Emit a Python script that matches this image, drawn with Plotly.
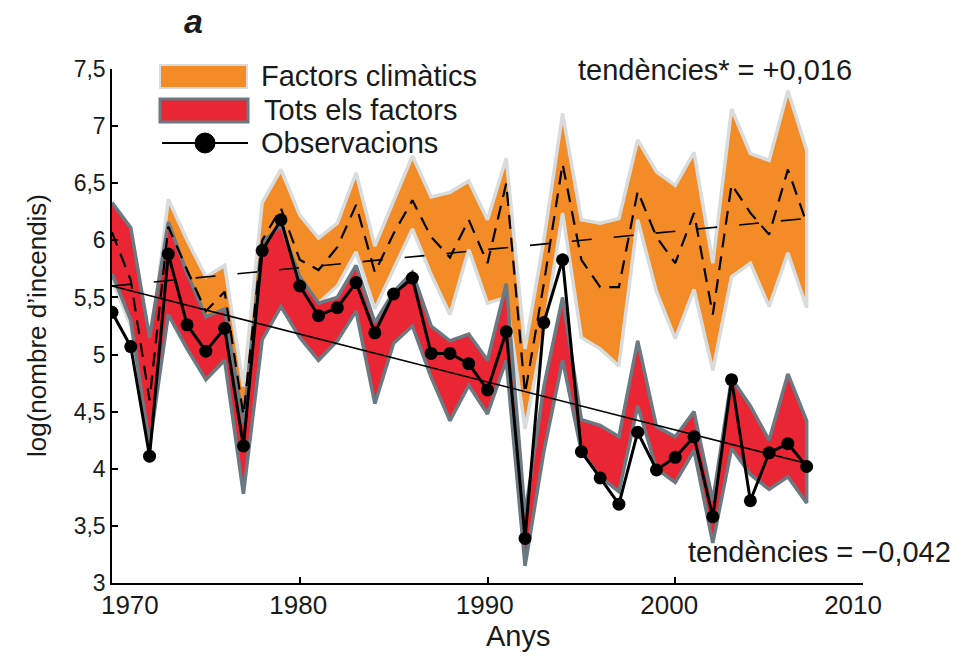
import plotly.graph_objects as go

# --- data -----------------------------------------------------------------
years = list(range(1970, 2008))

# observed log(number of fires)
observed = [5.37, 5.07, 4.11, 5.88, 5.26, 5.03, 5.23, 4.20, 5.91, 6.18,
            5.60, 5.34, 5.41, 5.63, 5.19, 5.53, 5.67, 5.01, 5.01, 4.92,
            4.69, 5.20, 3.39, 5.28, 5.83, 4.15, 3.92, 3.69, 4.32, 3.99,
            4.10, 4.28, 3.58, 4.78, 3.72, 4.14, 4.22, 4.02]

# model envelope, climatic factors only
clim_hi = [6.25, 6.00, 5.00, 6.36, 6.00, 5.68, 5.78, 4.72, 6.33, 6.62,
           6.22, 6.02, 6.15, 6.59, 5.95, 6.35, 6.74, 6.38, 6.42, 6.52,
           6.18, 6.72, 5.05, 6.00, 7.11, 6.18, 6.15, 6.19, 6.88, 6.60,
           6.48, 6.77, 5.80, 7.15, 6.76, 6.70, 7.31, 6.79]
clim_lo = [5.65, 5.25, 4.25, 5.75, 5.40, 5.05, 5.20, 4.30, 5.65, 5.90,
           5.50, 5.45, 5.60, 5.90, 5.40, 5.75, 6.10, 5.70, 5.35, 5.92,
           5.45, 5.50, 4.35, 5.20, 6.24, 5.15, 5.05, 4.90, 6.18, 5.55,
           5.14, 5.57, 4.86, 5.68, 5.80, 5.42, 5.89, 5.41]
clim_mean = [6.07, 5.65, 4.60, 6.12, 5.74, 5.38, 5.55, 4.47, 6.00, 6.28,
             5.83, 5.74, 5.94, 6.31, 5.72, 6.06, 6.35, 6.03, 5.85, 6.18,
             5.80, 6.50, 4.66, 5.62, 6.67, 5.83, 5.59, 5.59, 6.43, 6.03,
             5.80, 6.24, 5.35, 6.49, 6.24, 6.05, 6.62, 6.15]

# model envelope, all factors
all_hi = [6.33, 6.11, 5.15, 6.16, 5.71, 5.33, 5.40, 4.40, 5.98, 6.13,
          5.68, 5.45, 5.50, 5.78, 5.28, 5.55, 5.72, 5.25, 5.12, 5.18,
          4.95, 5.62, 3.60, 4.72, 5.50, 4.43, 4.38, 4.28, 5.12, 4.37,
          4.28, 4.50, 3.72, 4.79, 4.55, 4.25, 4.83, 4.42]
all_lo = [5.71, 5.30, 4.20, 5.35, 5.05, 4.78, 4.95, 3.78, 5.13, 5.42,
          5.15, 4.95, 5.12, 5.38, 4.57, 5.10, 5.25, 4.80, 4.42, 4.73,
          4.48, 4.95, 3.15, 4.15, 4.95, 4.15, 3.93, 3.80, 4.55, 4.00,
          3.88, 4.16, 3.35, 4.18, 3.95, 3.82, 3.93, 3.70]

# linear trends (value in 1970, slope per year)
clim_trend_start, clim_trend_slope = 5.60, 0.016
obs_trend_start, obs_trend_slope = 5.60, -0.042

x_ticks = [1970, 1980, 1990, 2000, 2010]
x_ticktext = ["1970", "1980", "1990", "2000", "2010"]
y_ticks = [3, 3.5, 4, 4.5, 5, 5.5, 6, 6.5, 7, 7.5]
y_ticktext = ["3", "3,5", "4", "4,5", "5", "5,5", "6", "6,5", "7", "7,5"]

# --- styles ---------------------------------------------------------------
ORANGE = "#F38B26"
ORANGE_EDGE = "#D8DCDC"
RED = "#EA2634"
RED_EDGE = "#6B7A82"
FONT = "Liberation Sans, Arial, Helvetica, sans-serif"
INK = "#1a1a1a"

fig = go.Figure()

# climatic-factors envelope
fig.add_trace(go.Scatter(
    x=years + years[::-1], y=clim_hi + clim_lo[::-1],
    fill="toself", fillcolor=ORANGE, mode="lines",
    line=dict(color=ORANGE_EDGE, width=3.5), hoverinfo="skip", showlegend=False))

# all-factors envelope
fig.add_trace(go.Scatter(
    x=years + years[::-1], y=all_hi + all_lo[::-1],
    fill="toself", fillcolor=RED, mode="lines",
    line=dict(color=RED_EDGE, width=3.5), hoverinfo="skip", showlegend=False))

# climatic mean (dashed)
fig.add_trace(go.Scatter(
    x=years, y=clim_mean, mode="lines",
    line=dict(color="black", width=2.2, dash="14px,9px"), showlegend=False))

# climatic trend (long dashes)
t_end = years[-1] - years[0]
fig.add_trace(go.Scatter(
    x=[years[0], years[-1]],
    y=[clim_trend_start, clim_trend_start + clim_trend_slope * t_end],
    mode="lines", line=dict(color="black", width=1.6, dash="20px,22px"),
    showlegend=False))

# observed trend
fig.add_trace(go.Scatter(
    x=[years[0], years[-1]],
    y=[obs_trend_start, obs_trend_start + obs_trend_slope * t_end],
    mode="lines", line=dict(color="black", width=1.6), showlegend=False))

# observations
fig.add_trace(go.Scatter(
    x=years, y=observed, mode="lines+markers",
    line=dict(color="black", width=3),
    marker=dict(color="black", size=13), showlegend=False))

# --- layout helpers (pixel -> paper) ---------------------------------------
L, R, T, B = 112, 863, 69, 583
W, H = 965, 663


def px(x):
    return (x - L) / (R - L)


def py(y):
    return (B - y) / (B - T)


shapes = [
    # legend swatches
    dict(type="rect", xref="paper", yref="paper",
         x0=px(160), x1=px(247), y0=py(88), y1=py(65),
         fillcolor=ORANGE, line=dict(color=ORANGE_EDGE, width=2)),
    dict(type="rect", xref="paper", yref="paper",
         x0=px(160), x1=px(248), y0=py(122), y1=py(99),
         fillcolor=RED, line=dict(color=RED_EDGE, width=3)),
    dict(type="line", xref="paper", yref="paper",
         x0=px(162), x1=px(248), y0=py(143), y1=py(143),
         line=dict(color="black", width=2)),
    dict(type="circle", xref="paper", yref="paper",
         xsizemode="pixel", ysizemode="pixel",
         xanchor=px(205), yanchor=py(143), x0=-10, x1=10, y0=-10, y1=10,
         fillcolor="black", line=dict(color="black", width=1)),
]

annotations = [
    dict(text="Factors climàtics", x=px(259), y=py(76), xanchor="left",
         yanchor="middle", font=dict(size=29)),
    dict(text="Tots els factors", x=px(262), y=py(110), xanchor="left",
         yanchor="middle", font=dict(size=29)),
    dict(text="Observacions", x=px(259), y=py(143), xanchor="left",
         yanchor="middle", font=dict(size=29)),
    dict(text="tendències* = +0,016", x=px(576), y=py(70), xanchor="left",
         yanchor="middle", font=dict(size=29)),
    dict(text="tendències = −0,042", x=px(686), y=py(552), xanchor="left",
         yanchor="middle", font=dict(size=29)),
    dict(text="<b><i>a</i></b>", x=px(193), y=py(21), xanchor="center",
         yanchor="middle", font=dict(size=34)),
    dict(text="Anys", x=px(518), y=py(636), xanchor="center",
         yanchor="middle", font=dict(size=29)),
    dict(text="log(nombre d’incendis)", x=px(37), y=0.5, xanchor="center",
         yanchor="middle", textangle=-90, font=dict(size=26)),
]
for a in annotations:
    a.update(xref="paper", yref="paper", showarrow=False)
    a["font"].update(family=FONT, color=INK)

axis_line = dict(showline=True, linecolor="black", linewidth=1.5,
                 showgrid=False, zeroline=False)

fig.update_layout(
    width=W, height=H,
    margin=dict(l=L, r=W - R, t=T, b=H - B, pad=0),
    paper_bgcolor="white", plot_bgcolor="white",
    font=dict(family=FONT, color=INK),
    shapes=shapes, annotations=annotations,
    # tick marks on the main axis
    xaxis=dict(range=[1970, 2010], tickvals=x_ticks, showticklabels=False,
               ticks="inside", ticklen=6, tickwidth=1.5, tickcolor="black",
               **axis_line),
    # label-only axis: year labels sit slightly off the marks
    xaxis2=dict(range=[1970, 2010], overlaying="x", side="bottom",
                tickvals=[1970.95, 1979.92, 1989.85, 1999.68, 2009.47],
                ticktext=x_ticktext, ticks="", showline=False,
                showgrid=False, zeroline=False, ticklabelstandoff=4,
                tickfont=dict(size=26, family=FONT, color=INK)),
    yaxis=dict(range=[3, 7.5], tickvals=y_ticks, ticktext=y_ticktext,
               ticks="inside", ticklen=6, tickwidth=1.5, tickcolor="black",
               tickfont=dict(size=23, family=FONT, color=INK),
               **axis_line),
)

# an empty trace binds the label-only axis so it is drawn
fig.add_trace(go.Scatter(x=[None], y=[None], xaxis="x2", showlegend=False,
                         hoverinfo="skip"))

fig.write_html("out.html")
